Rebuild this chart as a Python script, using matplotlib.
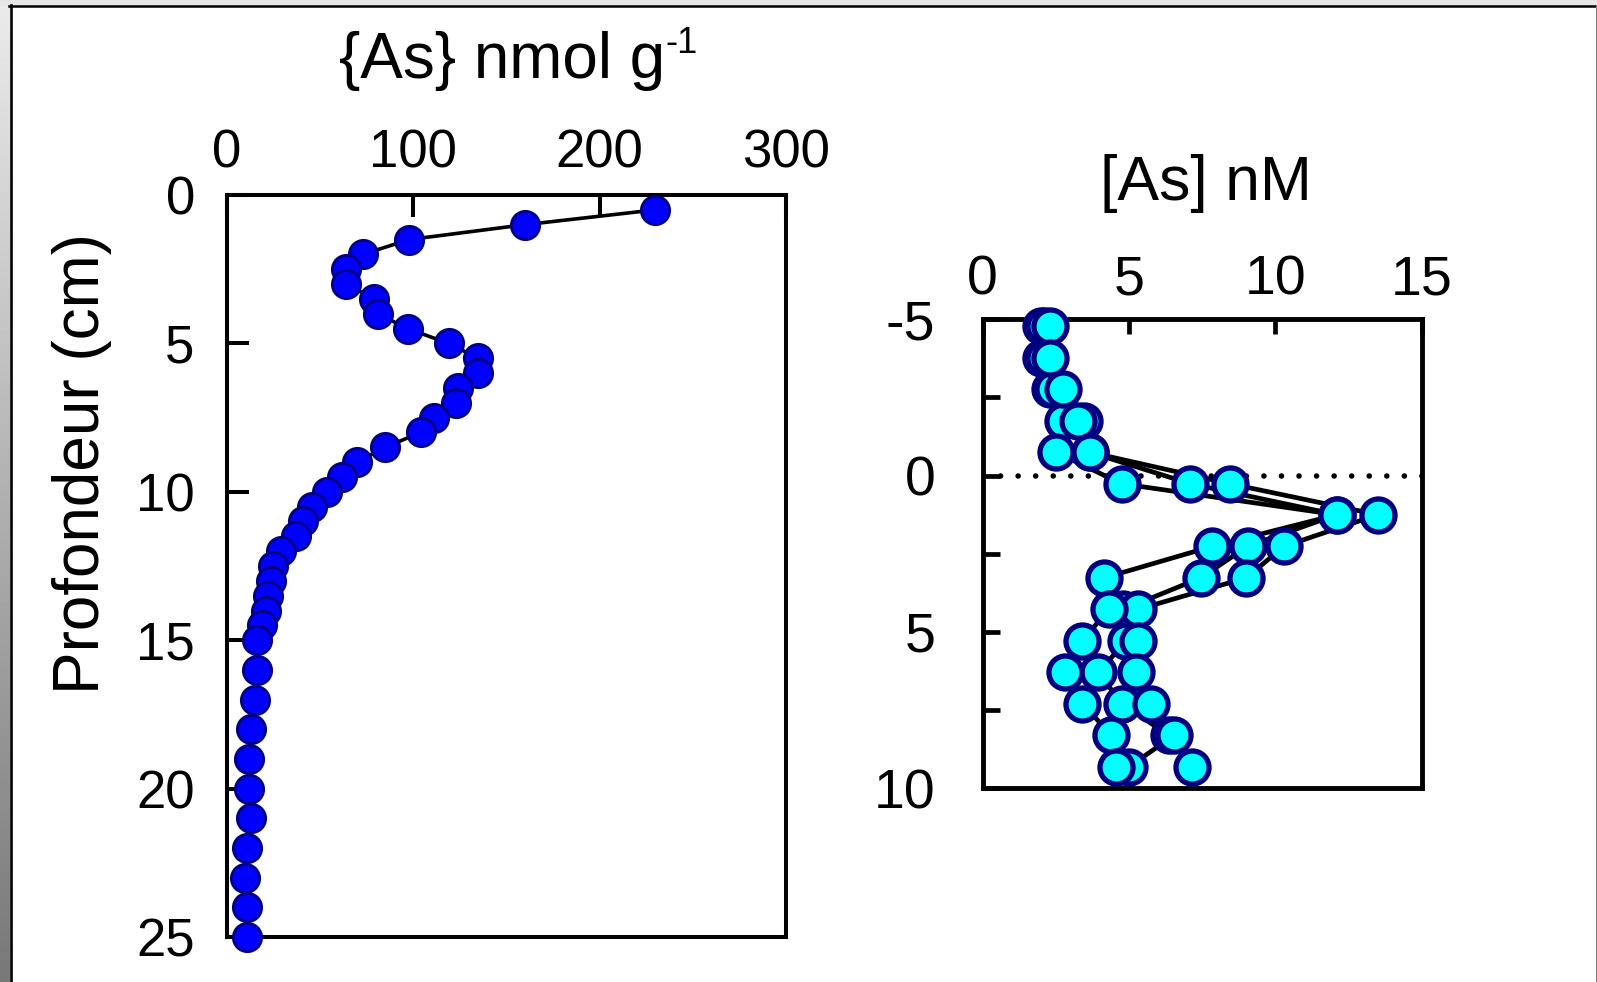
import numpy as np
import matplotlib
matplotlib.use('Agg')
import matplotlib.pyplot as plt
from matplotlib.patches import Rectangle
from matplotlib.lines import Line2D

plt.rcParams['font.family'] = ['Liberation Sans', 'DejaVu Sans']
plt.rcParams['axes.unicode_minus'] = False

# sediment : {As} nmol/g vs depth (cm)
depth_sed = [0.5, 1, 1.5, 2, 2.5, 3, 3.5, 4, 4.5, 5, 5.5, 6, 6.5, 7, 7.5, 8, 8.5, 9, 9.5, 10,
             10.5, 11, 11.5, 12, 12.5, 13, 13.5, 14, 14.5, 15,
             16, 17, 18, 19, 20, 21, 22, 23, 24, 25]
as_sed = [230, 160, 98, 73, 64, 64, 79, 81, 97, 119, 135, 135, 124, 123, 111, 104, 85, 70, 62, 54,
          46, 41, 37, 29, 25, 24, 22, 21, 19, 16,
          16, 15, 13, 12, 12, 13, 11, 10, 11, 11]

# porewater : [As] nM, three profiles
depth_pw = [-4.77, -3.77, -2.76, -1.76, -0.75, 0.26, 1.25, 2.26, 3.27, 4.28, 5.29, 6.29, 7.29, 8.30, 9.31]
as_pw_a = [2.3, 2.3, 2.75, 3.25, 2.5, 4.75, 12.1, 7.85, 4.15, 4.3, 3.4, 2.8, 3.4, 4.4, 4.55]
as_pw_b = [2.0, 2.0, 2.3, 2.75, 3.65, 7.1, 12.1, 9.05, 7.45, 4.8, 4.9, 3.95, 4.75, 6.35, 7.15]
as_pw_c = [2.1, 2.1, 2.4, 3.45, 3.65, 8.45, 13.5, 10.3, 9.0, 5.3, 5.3, 5.25, 5.75, 6.55, 5.0]

W, H = 1597, 982
fig = plt.figure(figsize=(W / 100, H / 100), dpi=100)
fig.patch.set_facecolor('white')

# slide frame
fig.patches.append(Rectangle((0, 1 - 4.5 / H), 1, 4.5 / H, transform=fig.transFigure,
                             color='#e6e6e6', zorder=0))
gax = fig.add_axes([0, 0, 9.5 / W, 1])
gax.imshow(np.linspace(0.92, 0.47, 256)[:, None], cmap='gray', vmin=0, vmax=1, aspect='auto')
gax.axis('off')
fig.add_artist(Line2D([9 / W, 1], [1 - 5.5 / H] * 2, color='black', lw=1.8))
fig.add_artist(Line2D([10.5 / W] * 2, [0, 1 - 4.5 / H], color='black', lw=1.9))
fig.add_artist(Line2D([1595.5 / W] * 2, [0, 1 - 4.5 / H], color='#808080', lw=0.8))

# ---- left panel
ax1 = fig.add_axes([226.7 / W, 1 - 937 / H, 559.3 / W, 742 / H])
ax1.plot(as_sed, depth_sed, '-', color='black', lw=2.6, marker='o', ms=20.4,
         mfc='#0000ff', mec='#000080', mew=2.0, clip_on=False, zorder=4)
ax1.set_xlim(0, 300)
ax1.set_ylim(25, 0)
ax1.set_xticks([0, 100, 200, 300])
ax1.set_yticks([0, 5, 10, 15, 20, 25])
ax1.xaxis.tick_top()
ax1.tick_params(axis='x', direction='in', length=15.5, width=2.9, pad=12, labelsize=38)
ax1.tick_params(axis='y', direction='in', length=15.5, width=2.9, pad=23, labelsize=38)
for s in ax1.spines.values():
    s.set_linewidth(2.9)

fig.text(339 / W, 1 - 78 / H, '{As} nmol g', fontsize=46, ha='left', va='baseline')
fig.text(665 / W, 1 - 53 / H, '-1', fontsize=26, ha='left', va='baseline')
fig.text(99 / W, 1 - 463 / H, 'Profondeur (cm)', fontsize=46, rotation=90,
         rotation_mode='anchor', ha='center', va='baseline')

# ---- right panel
ax2 = fig.add_axes([982.7 / W, 1 - 788.3 / H, 439 / W, 469 / H])
ax2.axhline(0, color='black', lw=4, linestyle=(0, (0.01, 3.15)), dash_capstyle='round', zorder=1)
for vals in (as_pw_b, as_pw_c, as_pw_a):
    ax2.plot(vals, depth_pw, '-', color='black', lw=3.4, zorder=2)
for vals in (as_pw_b, as_pw_c, as_pw_a):
    ax2.plot(vals, depth_pw, 'o', ms=23.8, mfc='#00ffff', mec='#000080', mew=3.8,
             clip_on=False, zorder=4)
ax2.set_xlim(0, 15)
ax2.set_ylim(10, -5)
ax2.set_xticks([0, 5, 10, 15])
ax2.set_yticks([-5, 0, 5, 10])
ax2.set_yticks([-2.5, 2.5, 7.5], minor=True)
ax2.xaxis.tick_top()
ax2.tick_params(axis='x', which='both', direction='in', length=11, width=3.4, pad=9, labelsize=40)
ax2.tick_params(axis='y', which='both', direction='in', length=12, width=3.4, pad=34, labelsize=40)
for s in ax2.spines.values():
    s.set_linewidth(3.5)

fig.text(1206 / W, 1 - 200 / H, '[As] nM', fontsize=45, ha='center', va='baseline')

fig.savefig('out.png', dpi=100)
